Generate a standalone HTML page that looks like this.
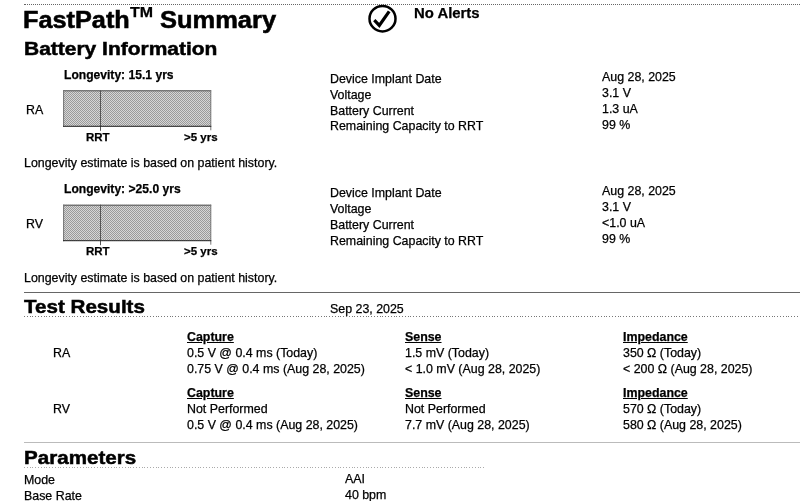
<!DOCTYPE html>
<html><head><meta charset="utf-8">
<style>
html,body{margin:0;padding:0;background:#fff;}
body{width:800px;height:501px;position:relative;overflow:hidden;font-family:"Liberation Sans",sans-serif;color:#000;font-size:12.4px;}
.t{position:absolute;white-space:nowrap;line-height:1;will-change:transform;-webkit-text-stroke:0.25px #000;}
.b{font-weight:bold;}
.h1{font-size:23.8px;font-weight:bold;transform-origin:0 0;-webkit-text-stroke:0.55px #000;}
.h2{font-size:18.9px;font-weight:bold;transform-origin:0 0;-webkit-text-stroke:0.5px #000;}
.dot{position:absolute;height:0;border-top:1px dotted #666;}
.line{position:absolute;height:1px;}
.u{text-decoration:underline;}
svg{position:absolute;}
</style></head><body>
<svg width="0" height="0"><defs><pattern id="ck" width="2" height="2" patternUnits="userSpaceOnUse"><rect width="2" height="2" fill="#d6d6d6"/><rect width="1" height="1" fill="#9a9a9a"/><rect x="1" y="1" width="1" height="1" fill="#9a9a9a"/></pattern></defs></svg>
<div class="dot" style="left:24px;top:4px;width:776px;"></div>
<div class="t h1" id="fp" style="left:23px;top:7.7px;transform:scaleX(1.062);">FastPath</div>
<div class="t" id="tm" style="left:129.5px;top:5px;font-size:14px;font-weight:bold;transform-origin:0 0;transform:scaleX(1.14);">TM</div>
<div class="t h1" id="sm" style="left:160px;top:7.7px;transform:scaleX(1.07);">Summary</div>
<svg style="left:366px;top:3px;" width="32" height="32" viewBox="366 3 32 32"><ellipse cx="382.5" cy="18.7" rx="13" ry="12.7" fill="none" stroke="#000" stroke-width="2.5"/><path d="M374.3 20.2 L379.3 25.4 L389.2 11.4" fill="none" stroke="#000" stroke-width="3.2"/></svg>
<div class="t b" id="na" style="left:414px;top:6.4px;font-size:14px;transform-origin:0 0;transform:scaleX(1.063);">No Alerts</div>
<div class="t h2" id="bi" style="left:23.7px;top:39.9px;transform:scaleX(1.11);">Battery Information</div>

<div class="t b" style="left:64px;top:69px;font-size:12.1px;">Longevity: 15.1 yrs</div>
<div class="t" style="left:26.3px;top:104px;">RA</div>
<svg style="left:60px;top:88px;" width="156" height="46" viewBox="60 88 156 46"><rect x="63" y="90" width="148" height="37" fill="url(#ck)" shape-rendering="crispEdges"/><rect x="63" y="89" width="148" height="1.30" fill="#fff"/><rect x="63" y="126.50" width="148" height="3" fill="#fff"/><rect x="63" y="90.30" width="148.2" height="1" fill="#555"/><rect x="63.1" y="90.30" width="1" height="36.5" fill="#777"/><rect x="210.3" y="90.30" width="1" height="40" fill="#777"/><rect x="100" y="90.30" width="1" height="40.5" fill="#555"/><rect x="63" y="125.80" width="148.3" height="1" fill="#222"/></svg>
<div class="t b" style="left:86.3px;top:132px;font-size:11.5px;">RRT</div>
<div class="t b" style="left:184.3px;top:132px;font-size:11.5px;">&gt;5 yrs</div>
<div class="t" style="left:24px;top:157px;">Longevity estimate is based on patient history.</div>
<div class="t" style="left:330px;top:73px;">Device Implant Date</div>
<div class="t" style="left:601.6px;top:71px;">Aug 28, 2025</div>
<div class="t" style="left:330px;top:89px;">Voltage</div>
<div class="t" style="left:601.6px;top:87px;">3.1 V</div>
<div class="t" style="left:330px;top:105px;">Battery Current</div>
<div class="t" style="left:601.6px;top:103px;">1.3 uA</div>
<div class="t" style="left:330px;top:120px;">Remaining Capacity to RRT</div>
<div class="t" style="left:601.6px;top:119px;">99 %</div>
<div class="t b" style="left:64px;top:183px;font-size:12.1px;">Longevity: &gt;25.0 yrs</div>
<div class="t" style="left:26.3px;top:218px;">RV</div>
<svg style="left:60px;top:202px;" width="156" height="46" viewBox="60 202 156 46"><rect x="63" y="204" width="148" height="37" fill="url(#ck)" shape-rendering="crispEdges"/><rect x="63" y="203" width="148" height="1.70" fill="#fff"/><rect x="63" y="240.90" width="148" height="3" fill="#fff"/><rect x="63" y="204.70" width="148.2" height="1" fill="#555"/><rect x="63.1" y="204.70" width="1" height="36.5" fill="#777"/><rect x="210.3" y="204.70" width="1" height="40" fill="#777"/><rect x="100" y="204.70" width="1" height="40.5" fill="#555"/><rect x="63" y="240.20" width="148.3" height="1" fill="#222"/></svg>
<div class="t b" style="left:86.3px;top:246px;font-size:11.5px;">RRT</div>
<div class="t b" style="left:184.3px;top:246px;font-size:11.5px;">&gt;5 yrs</div>
<div class="t" style="left:24px;top:272px;">Longevity estimate is based on patient history.</div>
<div class="t" style="left:330px;top:187px;">Device Implant Date</div>
<div class="t" style="left:601.6px;top:185px;">Aug 28, 2025</div>
<div class="t" style="left:330px;top:203px;">Voltage</div>
<div class="t" style="left:601.6px;top:201px;">3.1 V</div>
<div class="t" style="left:330px;top:219px;">Battery Current</div>
<div class="t" style="left:601.6px;top:217px;">&lt;1.0 uA</div>
<div class="t" style="left:330px;top:235px;">Remaining Capacity to RRT</div>
<div class="t" style="left:601.6px;top:233px;">99 %</div>
<div class="line" style="left:24px;top:292px;width:776px;background:#666;"></div>
<div class="t h2" id="tr" style="left:23.5px;top:298.2px;transform:scaleX(1.09);">Test Results</div>
<div class="t" style="left:330px;top:303px;">Sep 23, 2025</div>
<div style="position:absolute;left:24px;top:316px;width:776px;height:1px;background:repeating-linear-gradient(90deg,#777 0,#777 1px,transparent 1px,transparent 2.8px);"></div>
<div class="t b u" style="left:187px;top:331px;">Capture</div>
<div class="t b u" style="left:405px;top:331px;">Sense</div>
<div class="t b u" style="left:623px;top:331px;">Impedance</div>
<div class="t" style="left:52.7px;top:347px;">RA</div>
<div class="t" style="left:187px;top:347px;">0.5 V @ 0.4 ms (Today)</div>
<div class="t" style="left:405px;top:347px;">1.5 mV (Today)</div>
<div class="t" style="left:623px;top:347px;">350 Ω (Today)</div>
<div class="t" style="left:187px;top:363px;">0.75 V @ 0.4 ms (Aug 28, 2025)</div>
<div class="t" style="left:405px;top:363px;">&lt; 1.0 mV (Aug 28, 2025)</div>
<div class="t" style="left:623px;top:363px;">&lt; 200 Ω (Aug 28, 2025)</div>
<div class="t b u" style="left:187px;top:387px;">Capture</div>
<div class="t b u" style="left:405px;top:387px;">Sense</div>
<div class="t b u" style="left:623px;top:387px;">Impedance</div>
<div class="t" style="left:52.7px;top:403px;">RV</div>
<div class="t" style="left:187px;top:403px;">Not Performed</div>
<div class="t" style="left:405px;top:403px;">Not Performed</div>
<div class="t" style="left:623px;top:403px;">570 Ω (Today)</div>
<div class="t" style="left:187px;top:419px;">0.5 V @ 0.4 ms (Aug 28, 2025)</div>
<div class="t" style="left:405px;top:419px;">7.7 mV (Aug 28, 2025)</div>
<div class="t" style="left:623px;top:419px;">580 Ω (Aug 28, 2025)</div>
<div class="line" style="left:24px;top:442px;width:776px;background:#bbb;"></div>
<div class="t h2" id="pa" style="left:24.2px;top:449px;transform:scaleX(1.09);">Parameters</div>
<div style="position:absolute;left:24px;top:467px;width:460px;height:1px;background:repeating-linear-gradient(90deg,#aaa 0,#aaa 1px,transparent 1px,transparent 2.8px);"></div>
<div class="t" style="left:24px;top:474px;">Mode</div>
<div class="t" style="left:345px;top:473px;">AAI</div>
<div class="t" style="left:24px;top:490px;">Base Rate</div>
<div class="t" style="left:345px;top:489px;">40 bpm</div>
</body></html>
